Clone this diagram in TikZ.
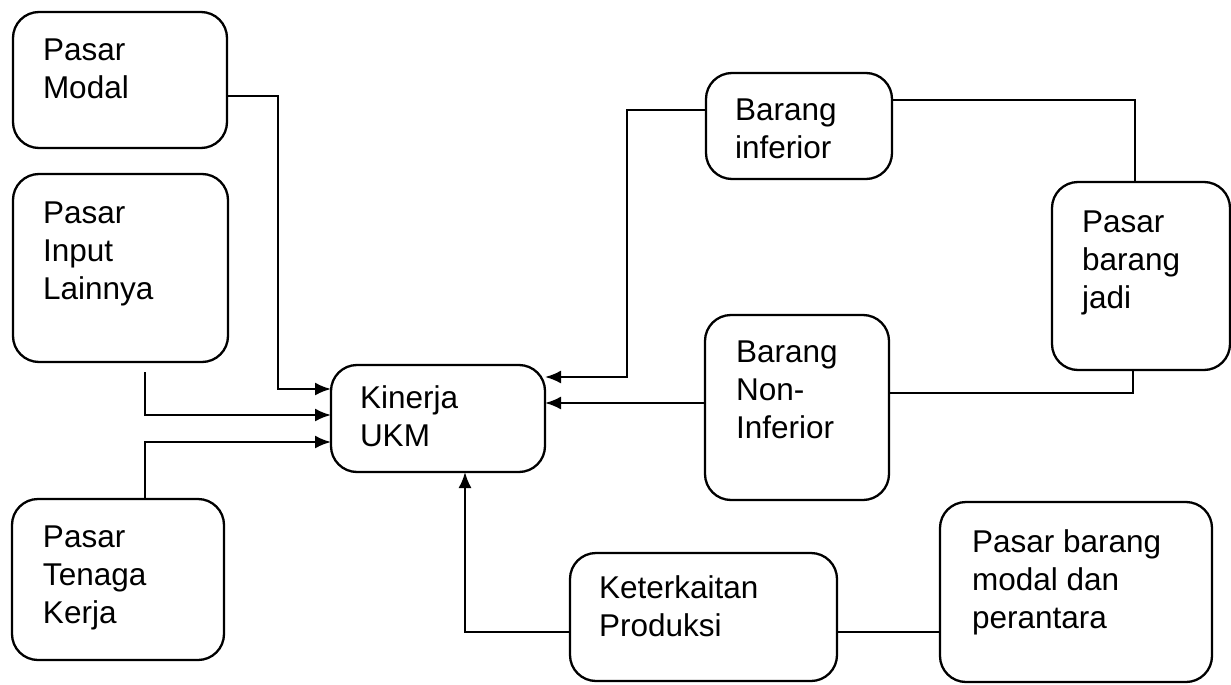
\documentclass[tikz,border=0pt]{standalone}
\usepackage{fontspec}
\setmainfont{Liberation Sans}
\usetikzlibrary{arrows.meta}
\newcommand\ukmbox[8]{%
  \node[ukm, minimum width=#4pt, minimum height=#5pt, anchor=north west] (#1) at (#2,#3)
  {\hspace*{#6pt}\parbox[c][#5pt][t]{\dimexpr#4pt-#6pt\relax}{\raggedright\rule{0pt}{#7pt}#8}};}
\tikzset{
  ukm/.style={draw, line width=2.3pt, rounded corners=26pt, inner sep=0pt, outer sep=0pt,
    font=\fontsize{31.5}{38}\selectfont},
  con/.style={line width=2.2pt},
  arr/.style={con, -{Latex[length=16pt,width=13pt]}}
}
\begin{document}
\begin{tikzpicture}[x=1pt,y=-1pt]
\useasboundingbox (0,0) rectangle (1231,685);
\ukmbox{pm}{13}{12}{214}{136}{30}{48}{Pasar\\Modal}
\ukmbox{pi}{13}{174}{215}{188}{30}{49}{Pasar\\Input\\Lainnya}
\ukmbox{pt}{12}{499}{212}{161}{31}{48}{Pasar\\Tenaga\\Kerja}
\ukmbox{k}{331}{365}{214}{107}{29}{43}{Kinerja\\UKM}
\ukmbox{bi}{706}{73}{186}{106}{29}{47}{Barang\\inferior}
\ukmbox{bn}{705}{315}{184}{185}{31}{47}{Barang\\Non-\\Inferior}
\ukmbox{bj}{1052}{182}{178}{188}{30}{50}{Pasar\\barang\\jadi}
\ukmbox{kp}{570}{553}{267}{128}{29}{45}{Keterkaitan\\Produksi}
\ukmbox{bm}{940}{502}{272}{180}{32}{50}{Pasar barang\\modal dan\\perantara}

\coordinate (c1) at (278,96);
\coordinate (c2) at (278,389);
\coordinate (c3) at (145,415);
\coordinate (c4) at (145,442);
\coordinate (c5) at (627,110);
\coordinate (c6) at (627,377);
\coordinate (c7) at (0,403);
\coordinate (c8) at (1135,100);
\coordinate (c9) at (1133,393);
\coordinate (c10) at (465,632);

\draw[arr] (pm.east |- c1) -- (c1) -- (c2) -- (k.west |- c2);
\draw[arr] ([yshift=-10pt]pi.south -| c3) -- (c3) -- (k.west |- c3);
\draw[arr] (pt.north -| c4) -- (c4) -- (k.west |- c4);
\draw[arr] (bi.west |- c5) -- (c5) -- (c6) -- (k.east |- c6);
\draw[arr] (bn.west |- c7) -- (k.east |- c7);
\draw[con] (bi.east |- c8) -- (c8) -- (bj.north -| c8);
\draw[con] (bj.south -| c9) -- (c9) -- (bn.east |- c9);
\draw[arr] (kp.west |- c10) -- (c10) -- (k.south -| c10);
\draw[con] (kp.east |- c10) -- (bm.west |- c10);
\end{tikzpicture}
\end{document}
